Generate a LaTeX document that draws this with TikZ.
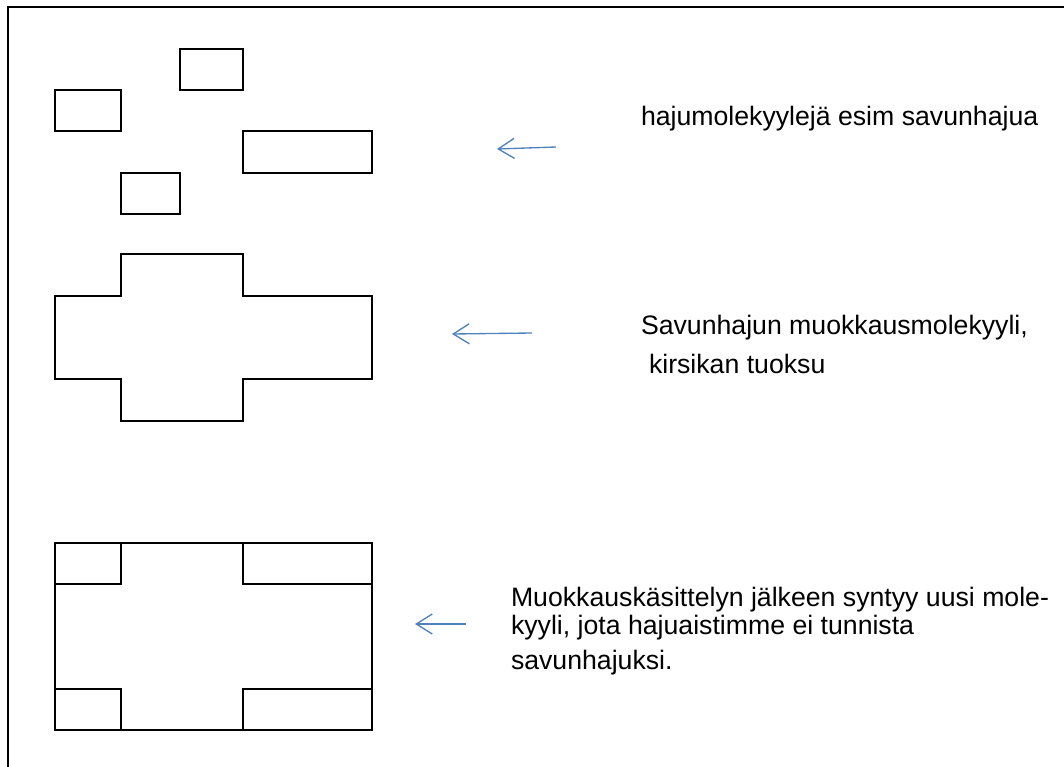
\documentclass[tikz,border=0pt]{standalone}
\usepackage{fontspec}
\setmainfont{Liberation Sans}
\usetikzlibrary{arrows.meta}
\definecolor{arrowblue}{RGB}{79,129,189}

\tikzstyle{molfig}=[x=0.75pt,y=-0.75pt,line width=1.5pt]
\tikzstyle{hint}=[draw=arrowblue,line width=1pt,-{Straight Barb[length=12pt,width=15pt]}]
\tikzstyle{caption}=[anchor=base west,inner sep=0pt,font=\fontsize{20}{24}\selectfont]

\begin{document}
\begin{tikzpicture}[style=molfig]
\useasboundingbox (0,0) rectangle (1064,767);
\draw (7.7,767) -- (7.7,6.7) -- (1064,6.7);

\draw (180,49) rectangle (243,90);
\draw (55,90) rectangle (121,131);
\draw (243,131) rectangle (372,173);
\draw (121,173) rectangle (180,214);

\draw (121,254) -- (243,254) -- (243,296) -- (372,296) -- (372,379) -- (243,379)
  -- (243,421) -- (121,421) -- (121,379) -- (55,379) -- (55,296) -- (121,296) -- cycle;

\draw (55,543) rectangle (372,730);
\draw (55,543) rectangle (121,584);
\draw (243,543) rectangle (372,584);
\draw (55,689) rectangle (121,730);
\draw (243,689) rectangle (372,730);

\coordinate (smokeTail) at (556,147);
\coordinate (smokeTip) at (497,149);
\coordinate (cherryTail) at (532,333);
\coordinate (cherryTip) at (452,334);
\coordinate (newTail) at (466,624);
\coordinate (newTip) at (415,624);
\draw[hint] (smokeTail) -- (smokeTip);
\draw[hint] (cherryTail) -- (cherryTip);
\draw[hint] (newTail) -- (newTip);

\node[caption] (smoke) at (640,126) {hajumolekyylejä esim savunhajua};
\node[caption] (cherry) at (640,334) {Savunhajun muokkausmolekyyli,};
\node[caption] (cherry2) at (648,373) {kirsikan tuoksu};
\node[caption] (result) at (510,606) {Muokkauskäsittelyn jälkeen syntyy uusi mole-};
\node[caption] (result2) at (510,634) {kyyli, jota hajuaistimme ei tunnista};
\node[caption] (result3) at (510,669) {savunhajuksi.};
\end{tikzpicture}
\end{document}
